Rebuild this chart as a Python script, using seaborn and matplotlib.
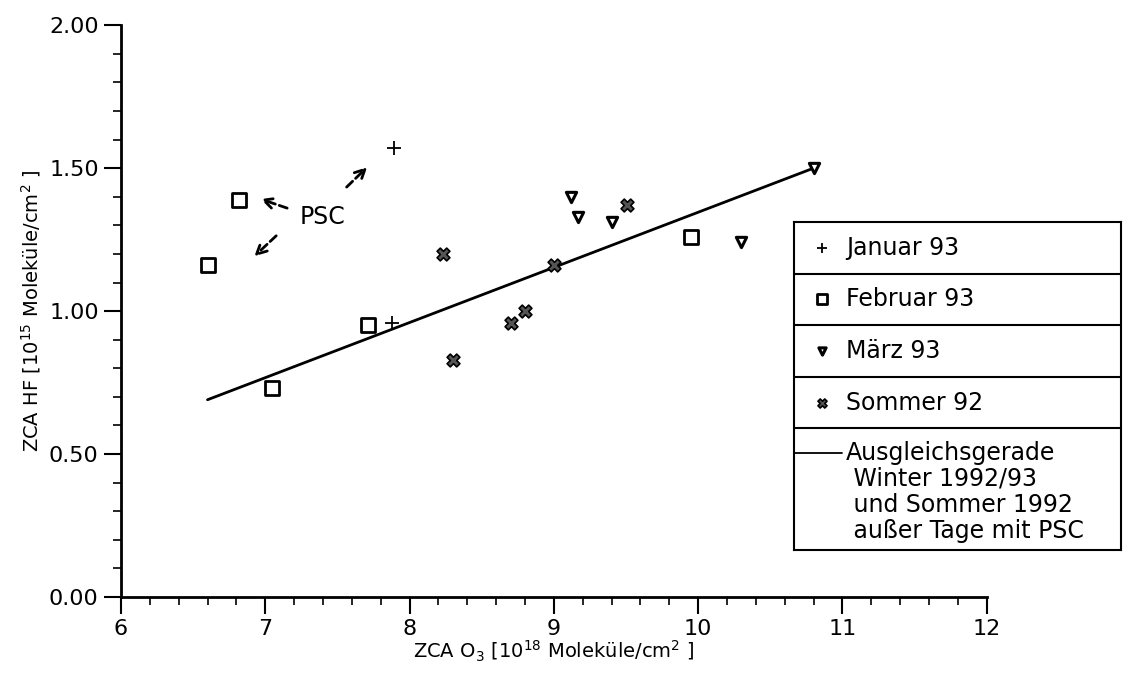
import matplotlib
matplotlib.use("Agg")
import matplotlib.pyplot as plt
import seaborn as sns
import pandas as pd
from matplotlib.ticker import MultipleLocator, FormatStrFormatter

# data
jan_x = [7.89, 7.88]
jan_y = [1.57, 0.96]
feb_x = [6.60, 6.82, 7.71, 7.05, 9.95]
feb_y = [1.16, 1.39, 0.953, 0.73, 1.26]
mar_x = [9.12, 9.17, 9.40, 10.30, 10.80]
mar_y = [1.40, 1.33, 1.31, 1.24, 1.50]
som_x = [8.23, 8.30, 8.70, 8.80, 9.00, 9.51]
som_y = [1.20, 0.83, 0.957, 1.00, 1.16, 1.37]
fit_x = [6.6, 10.8]
fit_y = [0.69, 1.50]

groups = ["Januar 93", "Februar 93", "März 93", "Sommer 92"]
fit_label = "Ausgleichsgerade\n Winter 1992/93\n und Sommer 1992\n außer Tage mit PSC"

sns.set_theme(style="ticks")
plt.rcParams["font.family"] = ["DejaVu Sans"]
plt.rcParams["text.color"] = "black"
plt.rcParams["axes.labelcolor"] = "black"
plt.rcParams["xtick.color"] = "black"
plt.rcParams["ytick.color"] = "black"

fig = plt.figure(figsize=(11.23, 6.8), dpi=100)
ax = fig.add_axes([0.1077, 0.122, 0.771, 0.841])

marker_kw = {
    "Januar 93": dict(marker="+", s=110, color="black", linewidth=1.3),
    "Februar 93": dict(marker="s", s=95, facecolor="white", edgecolor="black", linewidth=2),
    "März 93": dict(marker="v", s=55, facecolor="white", edgecolor="black", linewidth=2.2),
    "Sommer 92": dict(marker="X", s=85, facecolor="#555555", edgecolor="black", linewidth=1.2),
}
series = {
    "Januar 93": (jan_x, jan_y),
    "Februar 93": (feb_x, feb_y),
    "März 93": (mar_x, mar_y),
    "Sommer 92": (som_x, som_y),
}

fit_df = pd.DataFrame({"x": fit_x, "y": fit_y})
sns.lineplot(data=fit_df, x="x", y="y", ax=ax, color="black", linewidth=2, zorder=2)

for g in groups:
    df = pd.DataFrame({"x": series[g][0], "y": series[g][1]})
    sns.scatterplot(data=df, x="x", y="y", ax=ax, zorder=3, **marker_kw[g])

ax.set_xlim(6, 12)
ax.set_ylim(0, 2)
ax.xaxis.set_major_locator(MultipleLocator(1))
ax.xaxis.set_minor_locator(MultipleLocator(0.2))
ax.yaxis.set_major_locator(MultipleLocator(0.5))
ax.yaxis.set_minor_locator(MultipleLocator(0.1))
ax.yaxis.set_major_formatter(FormatStrFormatter("%.2f"))
ax.tick_params(which="major", direction="out", length=12, width=1.5, labelsize=16, pad=4)
ax.tick_params(which="minor", direction="out", length=6, width=1.2)
for s in ["top", "right"]:
    ax.spines[s].set_visible(False)
for s in ["left", "bottom"]:
    ax.spines[s].set_linewidth(2)
    ax.spines[s].set_color("black")

ax.set_xlabel(r"ZCA O$_3$ [10$^{18}$ Moleküle/cm$^2$ ]", fontsize=14, labelpad=0)
ax.set_ylabel(r"ZCA HF [10$^{15}$ Moleküle/cm$^2$ ]", fontsize=14, labelpad=4)

# PSC annotation with dashed arrows
ax.text(7.40, 1.33, "PSC", fontsize=17, ha="center", va="center")
arrows = [((7.17, 1.357), (6.95, 1.395)),
          ((7.55, 1.427), (7.72, 1.51)),
          ((7.09, 1.27), (6.91, 1.185))]
for start, end in arrows:
    ax.annotate("", xy=end, xytext=start,
                arrowprops=dict(arrowstyle="->", linestyle=(0, (3, 1.5)), lw=2,
                                color="black", mutation_scale=18))

# boxed legend with separated rows
left, top, right, bottom = 794, 222, 1121, 550
lax = fig.add_axes([left / 1123, 1 - bottom / 680, (right - left) / 1123, (bottom - top) / 680])
lax.set_xlim(left, right)
lax.set_ylim(bottom, top)
lax.set_xticks([])
lax.set_yticks([])
for s in lax.spines.values():
    s.set_linewidth(1.5)
    s.set_color("black")
rows = [222, 274, 325, 377, 428]
for r in rows[1:]:
    lax.axhline(r, color="black", linewidth=1.5)
for i, g in enumerate(groups):
    yc = (rows[i] + rows[i + 1]) / 2
    kw = dict(marker_kw[g])
    kw["s"] = kw["s"] * 0.5
    lax.scatter([822], [yc], **kw)
    lax.text(846, yc, g, fontsize=17, va="center", ha="left")
lax.plot([795, 842], [453, 453], color="black", linewidth=1.3)
lax.text(846, 441, fit_label, fontsize=17, va="top", ha="left", linespacing=1.1)

fig.savefig("out.png", dpi=100)
